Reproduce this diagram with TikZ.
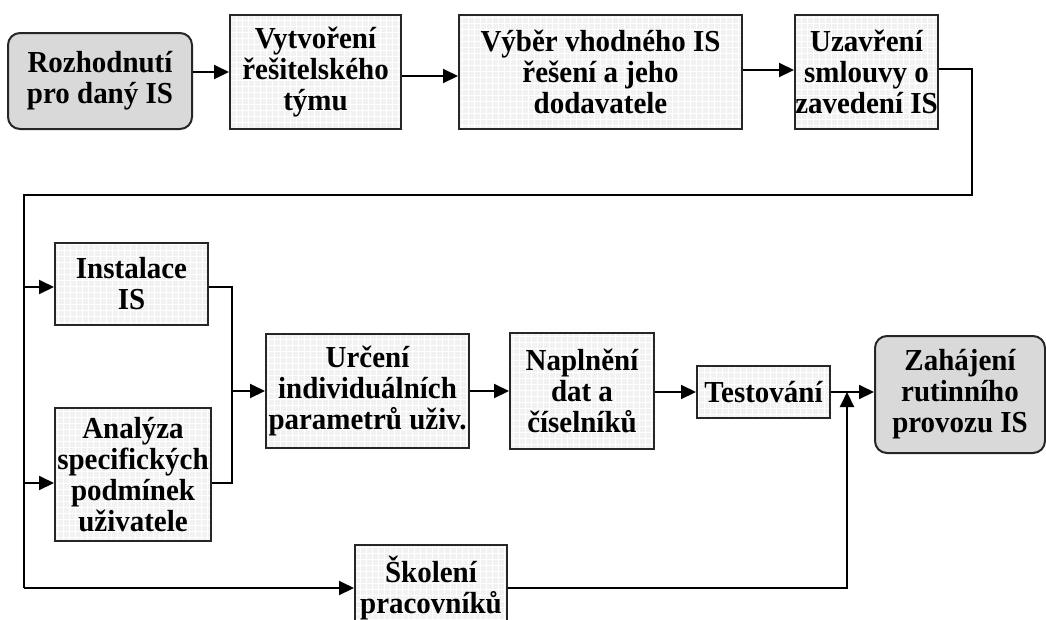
\documentclass[tikz,border=0pt]{standalone}
\usepackage{fontspec}
\setmainfont[FakeStretch=0.95]{Liberation Serif}
\usetikzlibrary{arrows.meta,calc}
\begin{document}
\begin{tikzpicture}[x=1pt,y=-1pt,
  box/.style={draw=black!85,line width=2pt,fill=black!5,inner sep=0pt,align=center,
    font=\fontsize{30.5}{31}\selectfont\bfseries,
    path picture={\draw[white,line width=0.4pt]
      (path picture bounding box.south west) grid[step=6pt] (path picture bounding box.north east);}},
  term/.style={box,rounded corners=12pt,fill=black!15,path picture={}},
  link/.style={line width=2pt,-{Triangle[length=15pt,width=14pt]}},
  wire/.style={line width=2pt}]
\useasboundingbox (0,0) rectangle (1046,619);
\fill[white] (0,0) rectangle (1046,619);
\clip (0,0) rectangle (1046,619);

% first row
\node[term,minimum width=184pt,minimum height=96pt] (rozh) at (100,81) {Rozhodnutí\\pro daný IS};
\node[box,minimum width=171pt,minimum height=114pt] (vytv) at (315.5,72) {Vytvoření\\řešitelského\\týmu};
\node[box,minimum width=283pt,minimum height=114pt] (vyber) at (600.5,72) {Výběr vhodného IS\\řešení a jeho\\dodavatele};
\node[box,minimum width=143pt,minimum height=114pt] (uzav) at (866.5,72) {Uzavření\\smlouvy o\\zavedení IS};

% second part
\node[box,minimum width=153pt,minimum height=82pt] (inst) at (131.5,284) {Instalace\\IS};
\node[box,minimum width=156pt,minimum height=133pt] (anal) at (133,474.5) {Analýza\\specifických\\podmínek\\uživatele};
\node[box,minimum width=203pt,minimum height=114pt] (urc) at (367.5,391) {Určení\\individuálních\\parametrů uživ.};
\node[box,minimum width=144pt,minimum height=116pt] (napl) at (582,391) {Naplnění\\dat a\\číselníků};
\node[box,minimum width=133pt,minimum height=52pt] (test) at (763.5,392) {Testování};
\node[term,minimum width=170pt,minimum height=117pt] (zah) at (960,394.5) {Zahájení\\rutinního\\provozu IS};
\node[box,minimum width=152pt,minimum height=86pt] (skol) at (431,588) {Školení\\pracovníků};

% routing points
\coordinate (r1) at (972,69);
\coordinate (r2) at (972,195);
\coordinate (r3) at (24,195);
\coordinate (r4) at (24,588);
\coordinate (j1) at (232,287);
\coordinate (j2) at (232,483);
\coordinate (j3) at (232,391);
\coordinate (t1) at (847,588);
\coordinate (t2) at (847,392);

% first row connectors
\draw[link] (rozh.east |- vytv.west) -- (vytv.west);
\draw[link] ([yshift=-4pt]vytv.east) -- ([yshift=-4pt]vyber.west);
\draw[link] ([yshift=2pt]vyber.east) -- ([yshift=2pt]uzav.west);

% return line and branches
\draw[wire] ([yshift=3pt]uzav.east) -- (r1) -- (r2) -- (r3) -- (r4);
\draw[link] (r4) -- (skol.west);
\draw[link] (r3 |- j1) -- (inst.west |- j1);
\draw[link] (r3 |- j2) -- (anal.west |- j2);

% join of the two parallel steps
\draw[wire] (inst.east |- j1) -- (j1) -- (j2) -- (anal.east |- j2);
\draw[link] (j3) -- (urc.west);
\draw[link] (urc.east) -- (napl.west);
\draw[link] (napl.east |- test.west) -- (test.west);
\draw[link] (test.east) -- (zah.west |- test.east);
\draw[link] (skol.east) -- (t1) -- (t2);
\end{tikzpicture}
\end{document}
